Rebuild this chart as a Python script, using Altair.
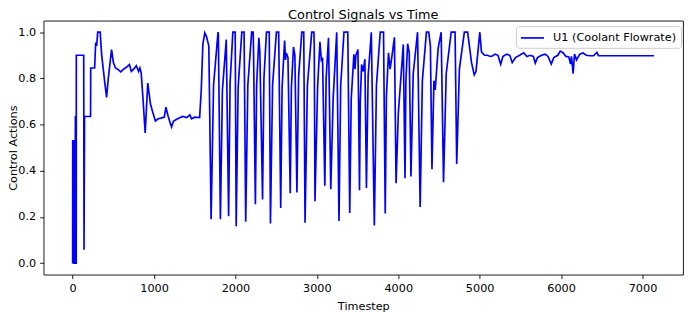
import altair as alt
import pandas as pd

# Timestep values (x) and control action values (y)
timestep = [
    0, 1, 8, 9, 14, 15, 22, 23, 28, 29, 33, 34, 38, 39, 44, 45, 136, 140, 146, 220, 222, 270,
    283, 295, 308, 338, 356, 397, 417, 437, 478, 500, 526, 560, 591, 620, 660, 697, 721, 750,
    782, 810, 826, 842, 863, 891, 923, 956, 984, 1017, 1050, 1085, 1126, 1146, 1170, 1200,
    1215, 1240, 1290, 1350, 1400, 1440, 1460, 1500, 1560, 1580, 1600, 1624, 1645, 1673,
    1701, 1731, 1786, 1790,
    1815, 1840, 1887,
    1916, 1934, 1968, 1997,
    2009, 2033, 2078, 2106,
    2126, 2152, 2199, 2218, 2222,
    2245, 2260, 2288, 2300,
    2333, 2350, 2381, 2415,
    2430, 2456, 2503, 2531,
    2556, 2573, 2604, 2615, 2625, 2645,
    2673, 2687, 2713, 2730,
    2755, 2776, 2815, 2839,
    2855, 2884, 2937, 2963, 2968,
    2977, 3009, 3038, 3055, 3070,
    3098, 3114, 3143,
    3171, 3200, 3244,
    3272, 3293, 3333, 3380,
    3404, 3422, 3455, 3468, 3480, 3505,
    3524, 3533, 3550, 3570, 3590,
    3609, 3630, 3669,
    3706, 3732, 3779, 3819,
    3840, 3854, 3880, 3900, 3920, 3953,
    3973, 4001, 4062,
    4083, 4094, 4115, 4135,
    4156, 4184, 4237,
    4269, 4296, 4346, 4374, 4395,
    4414, 4438, 4454, 4490, 4527,
    4556, 4589, 4650, 4698,
    4718, 4751, 4812, 4852, 4900, 4933, 4955, 5002,
    5022, 5060, 5094, 5130, 5156, 5190, 5225, 5258, 5285, 5330, 5370, 5400, 5440, 5490,
    5541, 5580, 5620, 5660, 5683, 5710, 5760, 5804, 5840, 5880, 5910, 5960, 5990, 6027,
    6060, 6095, 6116, 6128, 6148, 6165, 6190, 6230, 6270, 6310, 6351, 6400, 6440, 6460, 7141,
]
u1 = [
    0.0, 0.53, 0.53, 0.0, 0.0, 0.53, 0.53, 0.0, 0.0, 0.53, 0.53, 0.635, 0.635, 0.0, 0.0, 0.9, 0.9, 0.058, 0.635, 0.635, 0.845, 0.845,
    0.955, 0.94, 1.0, 1.0, 0.904, 0.775, 0.718, 0.797, 0.925, 0.87, 0.845, 0.838, 0.828, 0.838, 0.848, 0.86, 0.83, 0.84,
    0.855, 0.83, 0.845, 0.824, 0.718, 0.564, 0.78, 0.689, 0.653, 0.615, 0.625, 0.628, 0.632, 0.675, 0.64, 0.605,
    0.59, 0.615, 0.625, 0.635, 0.63, 0.642, 0.625, 0.632, 0.63, 0.75, 0.95, 0.997, 0.98, 0.94,
    0.19, 0.77, 1.0, 0.99,
    0.19, 0.75, 0.968,
    0.203, 0.78, 1.0, 1.0,
    0.16, 0.76, 1.0, 1.0,
    0.179, 0.77, 1.0, 1.0, 0.92,
    0.255, 0.77, 0.976, 0.91,
    0.275, 0.80, 1.0, 1.0,
    0.172, 0.77, 1.0, 1.0,
    0.239, 0.76, 0.964, 0.88, 0.91, 0.89,
    0.303, 0.76, 0.936, 0.90,
    0.306, 0.81, 1.0, 1.0,
    0.175, 0.77, 1.0, 1.0, 0.95,
    0.268, 0.76, 0.958, 0.88, 0.89,
    0.335, 0.80, 0.976,
    0.32, 0.71, 1.0,
    0.182, 0.77, 1.0, 1.0,
    0.217, 0.71, 0.904, 0.84, 0.90, 0.925,
    0.315, 0.70, 0.86, 0.83, 0.883,
    0.325, 0.81, 1.0,
    0.163, 0.77, 1.0, 1.0,
    0.215, 0.72, 0.911, 0.84, 0.89, 0.978,
    0.346, 0.65, 0.947,
    0.368, 0.79, 0.95, 0.91,
    0.375, 0.82, 1.0,
    0.243, 0.79, 1.0, 1.0, 0.94,
    0.406, 0.79, 0.75, 0.93, 1.0,
    0.35, 0.82, 1.0, 1.0,
    0.429, 0.84, 1.0, 1.0, 0.868, 0.815, 0.83, 1.0,
    0.915, 0.90, 0.90, 0.895, 0.897, 0.905, 0.90, 0.861, 0.895, 0.905, 0.90, 0.868, 0.89, 0.90,
    0.911, 0.895, 0.90, 0.895, 0.866, 0.89, 0.90, 0.905, 0.895, 0.862, 0.89, 0.90, 0.918, 0.91,
    0.895, 0.893, 0.862, 0.895, 0.82, 0.905, 0.88, 0.905, 0.91, 0.90, 0.898, 0.898, 0.912, 0.898, 0.898,
]

x_ticks = [0, 1000, 2000, 3000, 4000, 5000, 6000, 7000]
y_ticks = [0.0, 0.2, 0.4, 0.6, 0.8, 1.0]
series_name = "U1 (Coolant Flowrate)"

df = pd.DataFrame({"t": timestep, "u": u1})
df["i"] = range(len(df))
df["series"] = series_name

FONT = "DejaVu Sans"
FS = 11.4

chart = (
    alt.Chart(df)
    .mark_line(strokeWidth=1.7, clip=True)
    .encode(
        x=alt.X(
            "t:Q",
            scale=alt.Scale(domain=[-357, 7498], nice=False, zero=False),
            axis=alt.Axis(values=x_ticks, title="Timestep", format="d",
                          titleY=35, titleBaseline="alphabetic"),
        ),
        y=alt.Y(
            "u:Q",
            scale=alt.Scale(domain=[-0.05, 1.05], nice=False, zero=False),
            axis=alt.Axis(values=y_ticks, title="Control Actions", format=".1f",
                          titleX=-27.5, titleBaseline="alphabetic"),
        ),
        order=alt.Order("i:Q"),
        color=alt.Color(
            "series:N",
            scale=alt.Scale(range=["#0000ff"]),
            legend=alt.Legend(
                title=None,
                orient="none",
                legendX=478,
                legendY=5.5,
                padding=4.5,
                symbolType="M-1.08,0H2.51",
                symbolSize=169,
                symbolStrokeWidth=1.7,
                labelOffset=18,
                labelFontSize=FS,
                labelFont=FONT,
                labelColor="black",
                fillColor="rgba(255,255,255,0.8)",
                strokeColor="#cccccc",
                cornerRadius=3,
            ),
        ),
    )
    .properties(
        width=647,
        height=257,
        title=alt.TitleParams(
            "Control Signals vs Time",
            fontSize=13,
            font=FONT,
            fontWeight="normal",
            color="black",
            anchor="middle",
            offset=-1,
        ),
        autosize=alt.AutoSizeParams(type="none"),
        padding={"left": 36, "top": 11, "right": 1, "bottom": 36},
    )
    .configure_view(stroke="black", strokeWidth=0.9)
    .configure_axis(
        grid=False,
        domain=False,
        tickColor="black",
        tickWidth=0.9,
        tickSize=4,
        labelPadding=4,
        labelFont=FONT,
        labelFontSize=FS,
        labelColor="black",
        titleFont=FONT,
        titleFontSize=FS,
        titleFontWeight="normal",
        titleColor="black",
    )
)

chart.save("out.html", embed_options={"renderer": "svg", "actions": False})
